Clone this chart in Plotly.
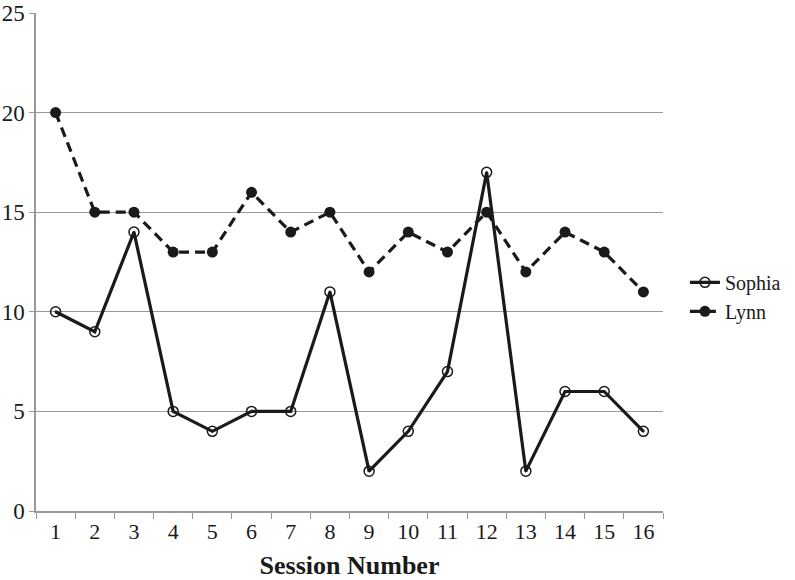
import plotly.graph_objects as go

sessions = [str(i) for i in range(1, 17)]
sophia = [10, 9, 14, 5, 4, 5, 5, 11, 2, 4, 7, 17, 2, 6, 6, 4]
lynn = [20, 15, 15, 13, 13, 16, 14, 15, 12, 14, 13, 15, 12, 14, 13, 11]
y_ticks = [0, 5, 10, 15, 20, 25]

FONT = "Liberation Serif, Times New Roman, serif"
GRID = "#9a9a9a"

fig = go.Figure()
fig.add_trace(go.Scatter(
    x=sessions, y=sophia, name="Sophia", mode="lines+markers",
    line=dict(color="#1a1a1a", width=3.2),
    marker=dict(symbol="circle-open-dot", size=10, color="#1a1a1a",
                line=dict(width=1.5, color="#1a1a1a")),
))
fig.add_trace(go.Scatter(
    x=sessions, y=lynn, name="Lynn", mode="lines+markers",
    line=dict(color="#1a1a1a", width=3.2, dash="10px,6px"),
    marker=dict(symbol="circle", size=11, color="#1a1a1a"),
))

fig.update_layout(
    width=795, height=580,
    margin=dict(l=36, r=132, t=13, b=69, autoexpand=False),
    paper_bgcolor="white", plot_bgcolor="white",
    font=dict(family=FONT, color="#1a1a1a", size=22),
    legend=dict(x=1.035, y=0.43, xanchor="left", yanchor="middle",
                font=dict(family=FONT, size=20), tracegroupgap=8),
    xaxis=dict(
        type="category", range=[-0.5, 15.5], automargin=False,
        tickson="boundaries", ticks="outside", ticklen=6, tickcolor=GRID,
        showgrid=False, showline=True, linecolor=GRID, linewidth=1.5,
        tickfont=dict(family=FONT, size=22),
        title=dict(text="<b>Session Number</b>", font=dict(family=FONT, size=26), standoff=15),
    ),
    yaxis=dict(
        range=[0, 25], tickvals=y_ticks, automargin=False,
        ticks="outside", ticklen=5, tickcolor=GRID,
        showgrid=True, gridcolor=GRID, gridwidth=1,
        showline=True, linecolor=GRID, linewidth=1.5,
        zeroline=False,
        tickfont=dict(family=FONT, size=23),
    ),
)

fig.write_html("out.html", config={"displayModeBar": False},
               post_script="document.body.style.margin='0';")
